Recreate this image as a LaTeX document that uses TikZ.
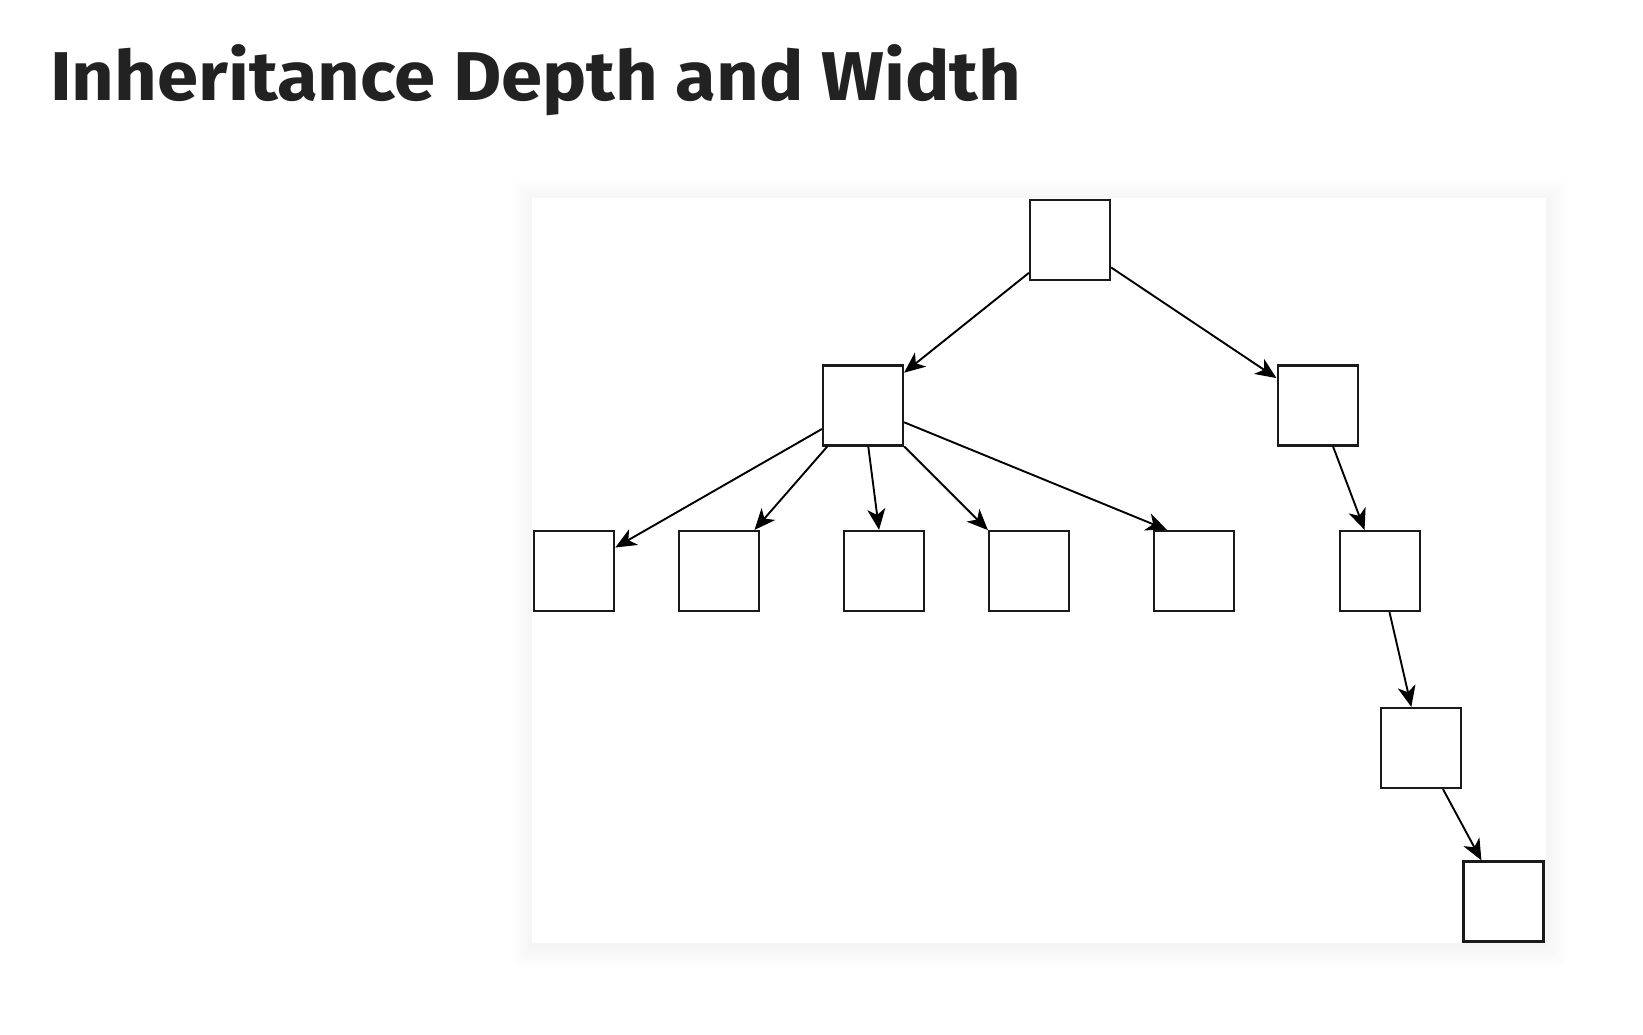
\documentclass[tikz,border=0pt]{standalone}
\usepackage{fontspec}
\setmainfont{Fira Sans}
\usetikzlibrary{arrows.meta}
\definecolor{titlecol}{HTML}{222222}
\definecolor{boxcol}{HTML}{1A1A1A}
\tikzset{
  cls/.style={draw=boxcol, fill=white, line width=2.2pt, minimum size=80pt, inner sep=0pt},
  inh/.style={draw=black, line width=1.9pt, -{Stealth[length=21pt,width=18pt,inset=6pt]}},
}
\begin{document}
\begin{tikzpicture}[x=1pt,y=-1pt]
\useasboundingbox (0,0) rectangle (1643,1035);
\fill[white] (0,0) rectangle (1643,1035);
% title
\node[anchor=base west, inner sep=0pt, text=titlecol] (title) at (50,100.7)
  {\resizebox{971pt}{56pt}{\bfseries Inheritance Depth and Width}};
% panel with soft shadow
\foreach \d in {2,4,...,20}{
  \fill[black, opacity=0.004] (532-\d,198-\d+3) rectangle (1546+\d,943+\d+3);
}
\fill[white] (532,198) rectangle (1546,943);
% nodes
\node[cls] (root) at (1070,240) {};
\node[cls] (l1a) at (863,405.5) {};
\node[cls] (l1b) at (1317.6,405.5) {};
\node[cls] (c1) at (574.2,571) {};
\node[cls] (c2) at (718.8,571) {};
\node[cls] (c3) at (884.3,571) {};
\node[cls] (c4) at (1029,571) {};
\node[cls] (c5) at (1194,571) {};
\node[cls] (c6) at (1380,571) {};
\node[cls] (d1) at (1420.8,748) {};
\node[cls] (e1) at (1503.5,901.5) {};
% connectors
\draw[inh] (root) -- (l1a);
\draw[inh] (root) -- (l1b);
\draw[inh] (l1a) -- (c1);
\draw[inh] (l1a) -- (c2);
\draw[inh] (l1a) -- (c3);
\draw[inh] (l1a) -- (c4);
\draw[inh] (l1a) -- ([xshift=-27pt]c5.north);
\draw[inh] (l1b) -- (c6);
\draw[inh] (c6) -- (d1);
\draw[inh] (d1) -- (e1);
\end{tikzpicture}
\end{document}
